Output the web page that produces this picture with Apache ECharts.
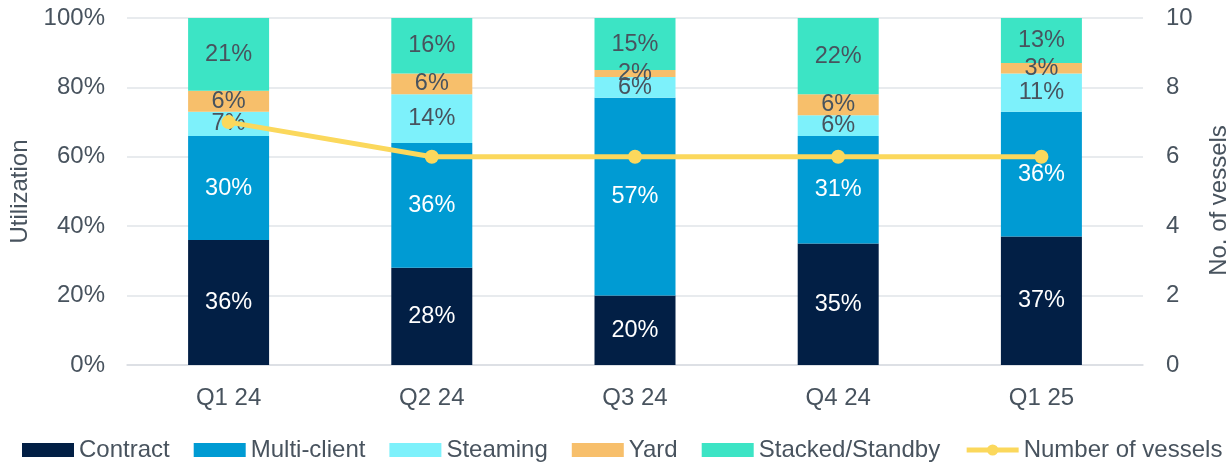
<!DOCTYPE html>
<html>
<head>
<meta charset="utf-8">
<script src="https://cdn.jsdelivr.net/npm/echarts@6/dist/echarts.min.js"></script>
<style>
  html, body { margin: 0; padding: 0; background: #fff; }
  #chart { width: 1230px; height: 462px; }
</style>
</head>
<body>
<div id="chart"></div>
<script>
  // 季度
  const quarters = ['Q1 24', 'Q2 24', 'Q3 24', 'Q4 24', 'Q1 25']
  // 利用率 (%)
  const contract = [36, 28, 20, 35, 37]
  const multiClient = [30, 36, 57, 31, 36]
  const steaming = [7, 14, 6, 6, 11]
  const yard = [6, 6, 2, 6, 3]
  const stacked = [21, 16, 15, 22, 13]
  // 船只数量
  const vessels = [7, 6, 6, 6, 6]

  const textColor = '#48535e'
  const font = 'Liberation Sans, Arial, sans-serif'

  function barSeries (name, data, color, labelColor) {
    return {
      name: name,
      type: 'bar',
      stack: 'util',
      barWidth: 81,
      data: data,
      itemStyle: { color: color },
      label: {
        show: true,
        position: 'inside',
        formatter: '{c}%',
        color: labelColor,
        fontSize: 23.5,
        fontFamily: font
      }
    }
  }

  let chart = echarts.init(document.getElementById('chart'))
  chart.setOption({
    animation: false,
    textStyle: { fontFamily: font },
    grid: { left: 127, right: 87, top: 18, bottom: 97, outerBoundsMode: 'none', containLabel: false },
    legend: {
      top: 433,
      left: 17,
      width: 1210,
      itemWidth: 52,
      itemHeight: 14,
      itemGap: 24,
      textStyle: { color: textColor, fontSize: 24, fontFamily: font },
      data: [
        { name: 'Contract', icon: 'rect' },
        { name: 'Multi-client', icon: 'rect' },
        { name: 'Steaming', icon: 'rect' },
        { name: 'Yard', icon: 'rect' },
        { name: 'Stacked/Standby', icon: 'rect' },
        { name: 'Number of vessels', lineStyle: { width: 5 } }
      ]
    },
    xAxis: {
      type: 'category',
      data: quarters,
      axisTick: { show: false },
      axisLine: { lineStyle: { color: '#d9dde2', width: 1.5 } },
      axisLabel: { color: textColor, fontSize: 24, margin: 21, fontFamily: font }
    },
    yAxis: [
      {
        type: 'value',
        min: 0,
        max: 100,
        interval: 20,
        name: 'Utilization',
        nameLocation: 'middle',
        nameGap: 95,
        nameTextStyle: { color: textColor, fontSize: 24, fontFamily: font },
        axisLabel: { formatter: '{value}%', color: textColor, fontSize: 24, margin: 22, fontFamily: font },
        axisLine: { show: false },
        axisTick: { show: false },
        splitLine: { lineStyle: { color: '#e1e4e8', width: 1.5 } }
      },
      {
        type: 'value',
        min: 0,
        max: 10,
        interval: 2,
        name: 'No. of vessels',
        nameLocation: 'middle',
        nameGap: 64,
        nameTextStyle: { color: textColor, fontSize: 24, fontFamily: font, padding: [0, 18, 0, 0] },
        axisLabel: { color: textColor, fontSize: 24, margin: 23, fontFamily: font },
        axisLine: { show: false },
        axisTick: { show: false },
        splitLine: { show: false }
      }
    ],
    series: [
      barSeries('Contract', contract, '#021f45', '#ffffff'),
      barSeries('Multi-client', multiClient, '#009bd3', '#ffffff'),
      barSeries('Steaming', steaming, '#7df1fb', textColor),
      barSeries('Yard', yard, '#f7bf6b', textColor),
      barSeries('Stacked/Standby', stacked, '#3ce4c5', textColor),
      {
        name: 'Number of vessels',
        type: 'line',
        yAxisIndex: 1,
        data: vessels,
        symbol: 'circle',
        symbolSize: 14,
        z: 2,
        lineStyle: { color: '#fbd85c', width: 5 },
        itemStyle: { color: '#fbd85c' }
      }
    ]
  })
</script>
</body>
</html>
